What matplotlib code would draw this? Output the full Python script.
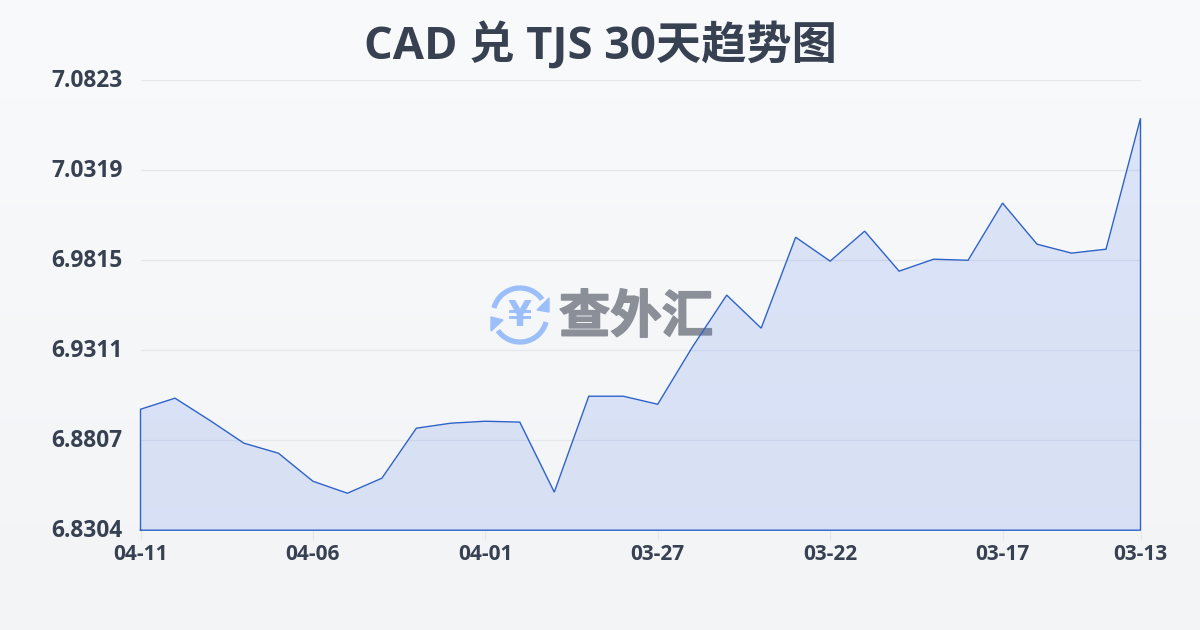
import numpy as np
import matplotlib
matplotlib.use("Agg")
import matplotlib.pyplot as plt
import matplotlib.patheffects as pe
from matplotlib.patches import Arc, Polygon
from matplotlib.transforms import ScaledTranslation

plt.rcParams['font.family'] = ['Open Sans', 'Noto Sans CJK SC', 'DejaVu Sans']

TITLE = "CAD 兑 TJS 30天趋势图"
values = [6.8981, 6.9043, 6.8920, 6.8791, 6.8735, 6.8578, 6.8511, 6.8595, 6.8875, 6.8903,
          6.8914, 6.8909, 6.8517, 6.9054, 6.9054, 6.9009, 6.9328, 6.9620, 6.9435, 6.9944,
          6.9810, 6.9978, 6.9754, 6.9821, 6.9815, 7.0135, 6.9905, 6.9855, 6.9877, 7.0610]
x_labels = ["04-11", "04-06", "04-01", "03-27", "03-22", "03-17", "03-13"]
x_label_pos = [0, 5, 10, 15, 20, 25, 29]
y_ticks = [6.8304, 6.8807, 6.9311, 6.9815, 7.0319, 7.0823]

W, H = 1200, 630
LINE = "#2f62c8"
TEXT = "#374151"

fig = plt.figure(figsize=(12, 6.3), dpi=100)

# background gradient
bg = fig.add_axes([0, 0, 1, 1], zorder=0)
grad = np.linspace(0, 1, 256).reshape(-1, 1, 1)
top = np.array([0.973, 0.980, 0.988]).reshape(1, 1, 3)
bottom = np.array([0.953, 0.957, 0.965]).reshape(1, 1, 3)
bg.imshow(top + (bottom - top) * grad, aspect="auto", extent=[0, W, H, 0])
bg.axis("off")

# watermark logo, pixel coords
logo = fig.add_axes([0, 0, 1, 1], zorder=1)
logo.set_xlim(0, W)
logo.set_ylim(H, 0)
logo.axis("off")
BLUE = "#9cbef9"
logo.add_patch(Arc((520, 315), 54, 54, theta1=195, theta2=325, color=BLUE, lw=3.8))
logo.add_patch(Arc((520, 315), 54, 54, theta1=15, theta2=145, color=BLUE, lw=3.8))
logo.add_patch(Polygon([(549, 298), (549, 312), (537, 310)], color=BLUE))
logo.add_patch(Polygon([(491, 317), (491, 331), (503, 320)], color=BLUE))
logo.text(520, 316, "¥", color=BLUE, fontsize=25, fontweight="bold", ha="center", va="center",
          family=["DejaVu Sans"])
logo.text(636, 317, "查外汇", color="#8a8f98", fontsize=37, fontweight="heavy", ha="center", va="center",
          family=["Noto Sans CJK SC"],
          path_effects=[pe.withStroke(linewidth=1.2, foreground="#8a8f98")])

ax = fig.add_axes([140.5 / W, 1 - 530.2 / H, 1000 / W, 450 / H], zorder=2)
ax.patch.set_alpha(0)
x = np.arange(len(values))
ax.fill_between(x, y_ticks[0], values, color="#3b6ce8", alpha=0.15, lw=0)
ax.plot(np.r_[x[0], x, x[-1], x[0]], np.r_[y_ticks[0], values, y_ticks[0], y_ticks[0]],
        color=LINE, lw=1.0, solid_joinstyle="miter", clip_on=False)
ax.set_xlim(0, 29)
ax.set_ylim(y_ticks[0], y_ticks[-1])
ax.grid(axis="y", color="#e5e7eb", lw=0.9)
ax.set_axisbelow(True)
for s in ax.spines.values():
    s.set_visible(False)
ax.set_yticks(y_ticks)
ax.set_yticklabels([f"{v:.4f}" for v in y_ticks], fontsize=16.4, fontweight="bold", color=TEXT)
ax.set_xticks(x_label_pos)
ax.set_xticklabels(x_labels, fontsize=15, fontweight="bold", color=TEXT)
ax.tick_params(axis="y", length=0, pad=13)
ax.tick_params(axis="x", length=7, color="#e5e7eb", pad=3)
nudge = ScaledTranslation(0, 2 / 100, fig.dpi_scale_trans)
for lab in ax.get_yticklabels():
    lab.set_transform(lab.get_transform() + nudge)

fig.text(0.5, 1 - 46.5 / H, TITLE, fontsize=32.6, fontweight="bold", color=TEXT, ha="center", va="center")

fig.savefig("out.png", dpi=100)
